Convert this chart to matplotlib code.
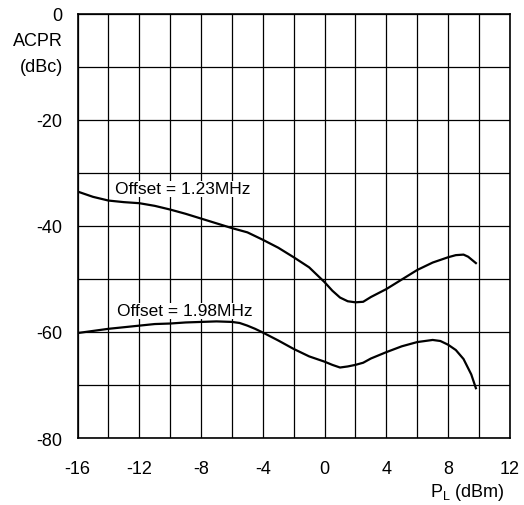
import numpy as np
import matplotlib
matplotlib.use("Agg")
import matplotlib.pyplot as plt
from matplotlib.ticker import MultipleLocator

plt.rcParams['font.family'] = ['Liberation Sans', 'DejaVu Sans']
plt.rcParams['axes.unicode_minus'] = False

# ACPR vs load power
pl_123 = [-16, -15, -14, -13, -12, -11, -10, -9, -8, -7, -6, -5, -4, -3, -2, -1, 0, 0.5, 1, 1.5, 2, 2.5, 3, 4, 5, 6, 7, 8, 8.5, 9, 9.3, 9.8]
acpr_123 = [-33.5, -34.5, -35.2, -35.5, -35.7, -36.2, -36.9, -37.7, -38.6, -39.5, -40.4, -41.2, -42.6, -44.1, -45.9,
            -47.8, -50.6, -52.2, -53.5, -54.2, -54.4, -54.3, -53.4, -51.9, -50.1, -48.3, -46.9, -45.9, -45.5,
            -45.4, -45.8, -47.0]

pl_198 = [-16, -15, -14, -13, -12, -11, -10, -9, -8, -7, -6, -5.5, -5, -4.5, -4, -3, -2, -1, 0, 0.5, 1, 1.5, 2, 2.5,
          3, 4, 5, 6, 7, 7.5, 8, 8.5, 9, 9.5, 9.8]
acpr_198 = [-60.2, -59.8, -59.4, -59.1, -58.8, -58.5, -58.4, -58.2, -58.1, -58.0, -58.1, -58.3, -58.8, -59.4, -60.1,
            -61.6, -63.2, -64.6, -65.6, -66.2, -66.7, -66.5, -66.2, -65.8, -65.0, -63.8, -62.7, -61.9, -61.5,
            -61.7, -62.4, -63.4, -65.1, -68.0, -70.6]

x_major = [-16, -12, -8, -4, 0, 4, 8, 12]
y_major = [0, -20, -40, -60, -80]

fig = plt.figure(figsize=(5.24, 5.06), dpi=100)
ax = fig.add_axes([0.148, 0.1324, 0.825, 0.838])

ax.plot(pl_123, acpr_123, color='black', lw=1.6)
ax.plot(pl_198, acpr_198, color='black', lw=1.6)

ax.set_xlim(-16, 12)
ax.set_ylim(-80, 0)
ax.set_xticks(x_major)
ax.set_yticks(y_major)
ax.xaxis.set_minor_locator(MultipleLocator(2))
ax.yaxis.set_minor_locator(MultipleLocator(10))
ax.grid(True, which='both', color='black', lw=0.9)
ax.set_axisbelow(True)
ax.tick_params(which='both', length=0, labelsize=13)
ax.tick_params(axis='x', pad=16)
ax.tick_params(axis='y', pad=11)
for s in ax.spines.values():
    s.set_linewidth(1.2)

ax.text(-13.55, -33.0, "Offset = 1.23MHz", fontsize=12.5, va='center', ha='left',
        bbox=dict(facecolor='white', edgecolor='none', pad=0.5))
ax.text(-13.45, -56.0, "Offset = 1.98MHz", fontsize=12.5, va='center', ha='left',
        bbox=dict(facecolor='white', edgecolor='none', pad=0.5))

fig.text(63 / 524, 1 - 42 / 506, "ACPR", fontsize=13, ha='right', va='center')
fig.text(63 / 524, 1 - 67 / 506, "(dBc)", fontsize=13, ha='right', va='center')
fig.text(505 / 524, 1 - 493 / 506, "P$_\\mathregular{L}$ (dBm)", fontsize=13, ha='right', va='center')

fig.savefig("out.png", dpi=100)
